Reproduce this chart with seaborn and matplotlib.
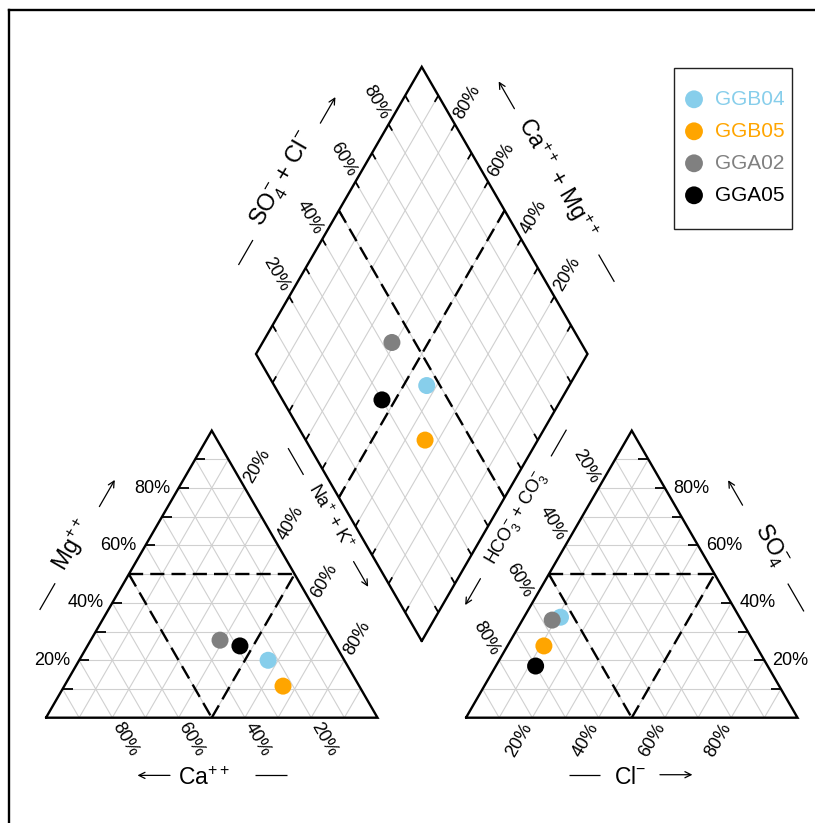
import numpy as np
import pandas as pd
import matplotlib
matplotlib.use('Agg')
import matplotlib.pyplot as plt
import seaborn as sns
from matplotlib.patches import Rectangle

# ---------------- data (percent of meq) ----------------
samples = ['GGB04', 'GGB05', 'GGA02', 'GGA05']
colors = ['#87CEEB', '#FFA500', '#808080', '#000000']
ca = [23, 23, 34, 29]
mg = [20, 11, 27, 25]
na_k = [57, 66, 39, 46]
cl = [11, 11, 9, 12]
so4 = [35, 25, 34, 18]
hco3 = [54, 64, 57, 70]
pct_values = [20, 40, 60, 80]
pct_labels = ['20%', '40%', '60%', '80%']

sns.set_theme(style='white')
plt.rcParams['font.family'] = ['Liberation Sans', 'DejaVu Sans']
plt.rcParams['text.color'] = 'black'
plt.rcParams['mathtext.fontset'] = 'custom'
plt.rcParams['mathtext.rm'] = 'Liberation Sans'
plt.rcParams['mathtext.it'] = 'Liberation Sans:italic'
plt.rcParams['mathtext.default'] = 'regular'

W, H = 815, 823
S = 331.5
OX_PX, OY_PX = 46.0, 717.7


def pu(px, py):
    return ((px - OX_PX) / S, (OY_PX - py) / S)


h = np.sqrt(3) / 2
g = 88.5 / S
ox = 1 + g
B = np.array([1 + g / 2, g * h])
L = B + np.array([-0.5, h])
R = B + np.array([0.5, h])
T = B + np.array([0, 2 * h])

fig = plt.figure(figsize=(W / 100, H / 100), dpi=100)
ax = fig.add_axes([0, 0, 1, 1])
ax.set_xlim(-OX_PX / S, (W - OX_PX) / S)
ax.set_ylim(-(H - OY_PX) / S, OY_PX / S)

GRID = '#d0d0d0'
fr = np.arange(1, 10) / 10


def seg(p, q, **kw):
    ax.plot([p[0], q[0]], [p[1], q[1]], solid_capstyle='butt', **kw)


# ---------------- grids ----------------
for f in fr:
    for off in (0, ox):
        seg((off + 0.5 * f, h * f), (off + 1 - 0.5 * f, h * f), color=GRID, lw=0.8)
        seg((off + f, 0), (off + f + 0.5 * (1 - f), h * (1 - f)), color=GRID, lw=0.8)
        seg((off + 1 - f, 0), (off + 0.5 * (1 - f), h * (1 - f)), color=GRID, lw=0.8)
    pu_ = B + f * np.array([0.5, h])
    seg(pu_, pu_ + np.array([-0.5, h]), color=GRID, lw=0.8)
    pv_ = B + f * np.array([-0.5, h])
    seg(pv_, pv_ + np.array([0.5, h]), color=GRID, lw=0.8)

# ---------------- dashed lines ----------------
DK = dict(color='black', lw=1.7, ls=(0, (6, 3)))
for off in (0, ox):
    a = (off + 0.25, h / 2); b = (off + 0.75, h / 2); c = (off + 0.5, 0)
    seg(a, b, **DK); seg(a, c, **DK); seg(c, b, **DK)
seg((L + T) / 2, (B + R) / 2, **DK)
seg((T + R) / 2, (B + L) / 2, **DK)

# ---------------- ticks ----------------
tl = 0.03
td = 0.022
for f in fr:
    seg((0.5 * f, h * f), (0.5 * f + tl, h * f), color='black', lw=1.3)
    seg((ox + 1 - 0.5 * f, h * f), (ox + 1 - 0.5 * f - tl, h * f), color='black', lw=1.3)
    p = B + f * np.array([-0.5, h]); seg(p, p + td * np.array([0.5, h]), color='black', lw=1.3)
    p = L + f * np.array([0.5, h]); seg(p, p + td * np.array([0.5, -h]), color='black', lw=1.3)
    p = R + f * np.array([-0.5, h]); seg(p, p + td * np.array([-0.5, -h]), color='black', lw=1.3)
    p = B + f * np.array([0.5, h]); seg(p, p + td * np.array([-0.5, h]), color='black', lw=1.3)

# ---------------- outlines ----------------
EK = dict(color='black', lw=1.7, solid_joinstyle='miter')
for off in (0, ox):
    xs = [off, off + 1, off + 0.5, off]
    ys = [0, 0, h, 0]
    ax.plot(xs, ys, **EK)
dm = np.array([B, R, T, L, B])
ax.plot(dm[:, 0], dm[:, 1], **EK)

# ---------------- percent labels ----------------
PF = 13
dext = 0.077
for v, lab in zip(pct_values, pct_labels):
    p = v / 100
    # Mg (left edge, left triangle)
    ax.text(0.5 * p - 0.026, h * p, lab, ha='right', va='center', fontsize=PF)
    # Ca (bottom, left triangle)
    q = np.array([1 - p, 0]) + dext * np.array([0.5, -h])
    ax.text(q[0], q[1], lab, ha='center', va='center', rotation=-60, rotation_mode='anchor', fontsize=PF)
    # Na + K (right edge, left triangle)
    q = np.array([p + 0.5 * (1 - p), h * (1 - p)]) + dext * np.array([0.5, h])
    ax.text(q[0], q[1], lab, ha='center', va='center', rotation=60, rotation_mode='anchor', fontsize=PF)
    # HCO3 + CO3 (left edge, right triangle)
    q = np.array([ox + 0.5 * (1 - p), h * (1 - p)]) + dext * np.array([-0.5, h])
    ax.text(q[0], q[1], lab, ha='center', va='center', rotation=-60, rotation_mode='anchor', fontsize=PF)
    # Cl (bottom, right triangle)
    q = np.array([ox + p, 0]) + dext * np.array([-0.5, -h])
    ax.text(q[0], q[1], lab, ha='center', va='center', rotation=60, rotation_mode='anchor', fontsize=PF)
    # SO4 (right edge, right triangle)
    ax.text(ox + 1 - 0.5 * p + 0.024, h * p, lab, ha='left', va='center', fontsize=PF)
    # SO4 + Cl (diamond upper-left)
    q = L + p * np.array([0.5, h]) + dext * np.array([-0.5, h])
    ax.text(q[0], q[1], lab, ha='center', va='center', rotation=-60, rotation_mode='anchor', fontsize=PF)
    # Ca + Mg (diamond upper-right)
    q = R + p * np.array([-0.5, h]) + dext * np.array([0.5, h])
    ax.text(q[0], q[1], lab, ha='center', va='center', rotation=60, rotation_mode='anchor', fontsize=PF)


# ---------------- axis titles ----------------
def deco(P0, P1, n, text, rot, tc, nt, dash, arrow, nd, fs):
    P0 = np.array(P0, float); P1 = np.array(P1, float); n = np.array(n, float)
    d = (P1 - P0) / np.linalg.norm(P1 - P0)
    M = (P0 + P1) / 2
    tp = M + tc * d + nt * n
    ax.text(tp[0], tp[1], text, ha='center', va='center', rotation=rot,
            rotation_mode='anchor', fontsize=fs)
    a0 = M + dash[0] * d + nd * n; a1 = M + dash[1] * d + nd * n
    seg(a0, a1, color='black', lw=0.9)
    b0 = M + arrow[0] * d + nd * n; b1 = M + arrow[1] * d + nd * n
    ax.annotate('', xy=b1, xytext=b0,
                arrowprops=dict(arrowstyle='->', lw=0.9, color='black',
                                mutation_scale=11, shrinkA=0, shrinkB=0))


deco((0, 0), (0.5, h), (-h, 0.5), r'Mg$^{++}$', 60, -0.01, 0.19,
     (-0.228, -0.135), (0.132, 0.225), 0.179, 16.5)
deco((1, 0), (0, 0), (0, -1), r'Ca$^{++}$', 0, 0.024, 0.182,
     (-0.228, -0.13), (0.126, 0.224), 0.174, 16.5)
deco((0.5, h), (1, 0), (h, 0.5), r'Na$^{+}$ + K$^{+}$', -60, -0.097, 0.18,
     (-0.339, -0.246), (0.056, 0.144), 0.173, 13)
deco((ox + 0.5, h), (ox, 0), (-h, 0.5), r'HCO$_3^{-}$ + CO$_3^{-}$', 60, -0.098, 0.168,
     (-0.404, -0.311), (0.115, 0.207), 0.172, 13)
deco((ox, 0), (ox + 1, 0), (0, -1), r'Cl$^{-}$', 0, -0.005, 0.18,
     (-0.19, -0.095), (0.085, 0.183), 0.172, 16.5)
deco((ox + 1, 0), (ox + 0.5, h), (h, 0.5), r'SO$_4^{-}$', -60, -0.008, 0.189,
     (-0.232, -0.135), (0.138, 0.225), 0.177, 16.5)
deco(L, T, (-h, 0.5), r'SO$_4^{-}$ + Cl$^{-}$', 60, -0.005, 0.192,
     (-0.294, -0.207), (0.20, 0.291), 0.18, 17)
deco(R, T, (h, 0.5), r'Ca$^{++}$ + Mg$^{++}$', -60, 0.006, 0.184,
     (-0.352, -0.257), (0.251, 0.346), 0.179, 16.5)

# ---------------- sample points ----------------
rows = []
for i, s in enumerate(samples):
    rows.append((s, na_k[i] / 100 + 0.5 * mg[i] / 100, h * mg[i] / 100))
for i, s in enumerate(samples):
    rows.append((s, ox + cl[i] / 100 + 0.5 * so4[i] / 100, h * so4[i] / 100))
for i, s in enumerate(samples):
    u = (so4[i] + cl[i]) / 100
    v = (ca[i] + mg[i]) / 100
    rows.append((s, B[0] + 0.5 * (u - v), B[1] + h * (u + v)))
df = pd.DataFrame(rows, columns=['sample', 'x', 'y'])
sns.scatterplot(data=df, x='x', y='y', hue='sample', hue_order=samples,
                palette=dict(zip(samples, colors)), s=150, edgecolor='none',
                linewidth=0, legend=False, ax=ax, zorder=5)

# ---------------- legend ----------------
x0, y0 = pu(674, 229)
x1, y1 = pu(792, 68)
ax.add_patch(Rectangle((x0, y0), x1 - x0, y1 - y0, fill=False, edgecolor='#222222', lw=1.0, zorder=6))
leg_y = [99.3, 131.3, 163.3, 195.3]
for s, c, yy in zip(samples, colors, leg_y):
    mx, my = pu(694, yy)
    ax.scatter([mx], [my], s=165, color=c, edgecolor='none', zorder=7)
    tx, ty = pu(715, yy)
    ax.text(tx, ty, s, color=c, fontsize=15, ha='left', va='center', zorder=7)

# ---------------- outer frame ----------------
fx, fy = pu(8.5, 10)
_, fb = pu(0, 830)
fr_, _ = pu(830, 0)
ax.plot([fx, fx], [fb, fy], color='black', lw=1.7, clip_on=False, solid_capstyle='projecting')
ax.plot([fx, fr_], [fy, fy], color='black', lw=1.7, clip_on=False, solid_capstyle='projecting')

ax.set_xlim(-OX_PX / S, (W - OX_PX) / S)
ax.set_ylim(-(H - OY_PX) / S, OY_PX / S)
ax.set_axis_off()
fig.savefig('out.png', dpi=100)
